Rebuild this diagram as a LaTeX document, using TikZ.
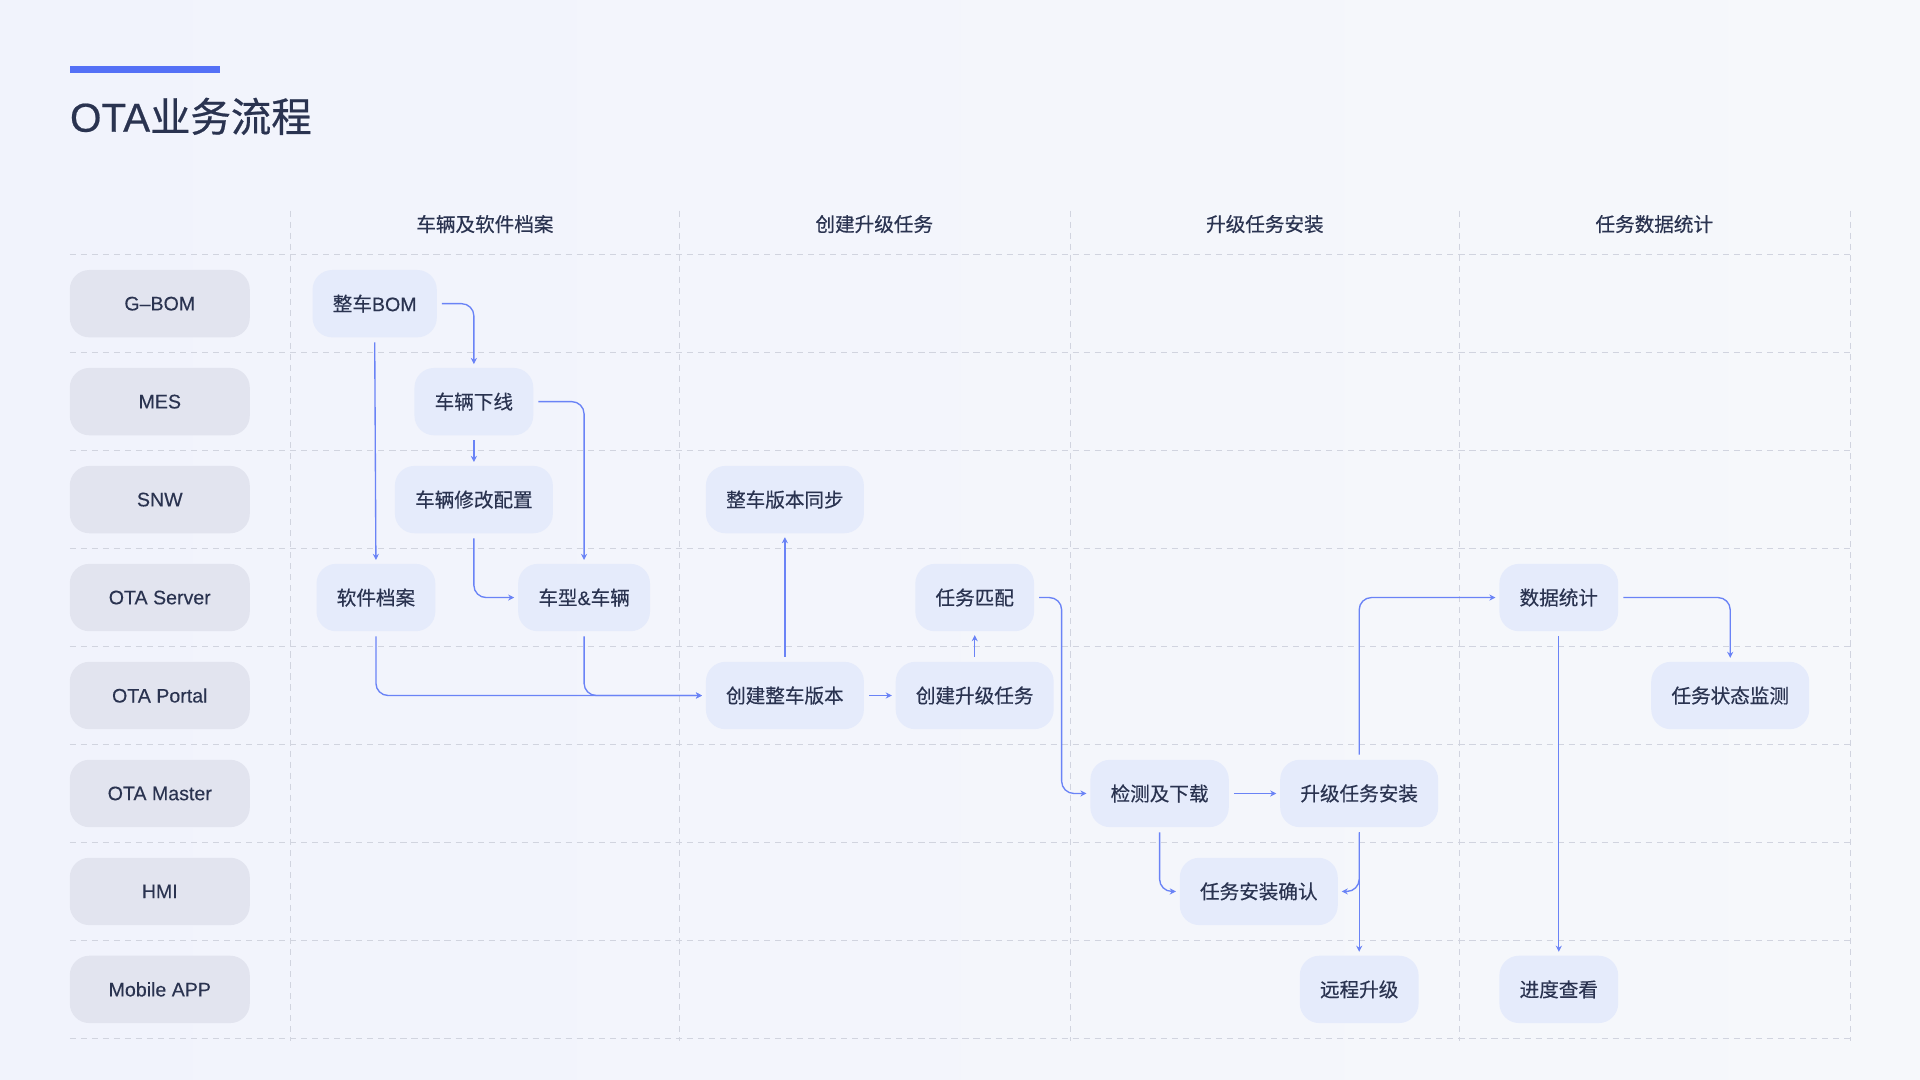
\documentclass[tikz,border=0pt]{standalone}
\usepackage{fontspec}
\setmainfont{Liberation Sans}[FakeBold=0.3]
\newfontfamily\cjk{Noto Sans CJK SC}[FakeBold=0.4]
\newfontfamily\lat{Liberation Sans}[FakeBold=0.3]
\newfontfamily\titlelat{Liberation Sans}[FakeBold=0.5]
\newfontfamily\titlecjk{Noto Sans CJK SC}[FakeBold=0.6]
\usetikzlibrary{arrows.meta,calc}
\definecolor{bgA}{HTML}{F1F3FC}
\definecolor{bgB}{HTML}{F6F8FB}
\definecolor{ink}{HTML}{2A3350}
\definecolor{accent}{HTML}{5470F6}
\definecolor{grid}{HTML}{D1D4DF}
\definecolor{lanefill}{HTML}{E2E4EF}
\definecolor{procfill}{HTML}{E5EBFB}
\definecolor{link}{HTML}{6A83F6}
\tikzset{
  lane/.style={rounded corners=16pt, fill=lanefill, minimum width=147pt, minimum height=55pt, inner sep=0pt, text=ink, font=\lat\fontsize{16}{19}\selectfont},
  proc/.style={rounded corners=16pt, fill=procfill, minimum height=55pt, inner xsep=16.5pt, inner ysep=0pt, text=ink, font=\cjk\fontsize{16}{19}\selectfont},
  colhead/.style={text=ink, font=\cjk\fontsize{16}{19}\selectfont},
  gridline/.style={grid, line width=0.9pt, dash pattern=on 5pt off 4pt},
  conn/.style={link, line width=1.1pt, rounded corners=10pt, -{Stealth[length=5pt,width=5pt]}, shorten >=3pt, shorten <=4pt}
}
\begin{document}
\begin{tikzpicture}[x=1pt,y=-1pt]
\useasboundingbox (0,0) rectangle (1568,882);
\shade[left color=bgA, right color=bgB] (0,0) rectangle (1568,882);
% title
\fill[accent] (57,54) rectangle (180,60);
\node[anchor=west, inner sep=0pt, text=ink, font=\fontsize{33}{39}\selectfont] (title) at (57,95) {{\titlelat OTA}{\titlecjk 业务流程}};
% grid
\foreach \yy in {208,288,368,448,528,608,688,768,848}
  \draw[gridline] (57,\yy) -- (1511,\yy);
\foreach \xx in {237,555,874,1192,1511}
  \draw[gridline] (\xx,172) -- (\xx,850);
% column headers
\node[colhead] (h1) at (396,183) {车辆及软件档案};
\node[colhead] (h2) at (714,183) {创建升级任务};
\node[colhead] (h3) at (1033,183) {升级任务安装};
\node[colhead] (h4) at (1351,183) {任务数据统计};
% lanes
\node[lane] (l1) at (130.5,248) {G–BOM};
\node[lane] (l2) at (130.5,328) {MES};
\node[lane] (l3) at (130.5,408) {SNW};
\node[lane] (l4) at (130.5,488) {OTA Server};
\node[lane] (l5) at (130.5,568) {OTA Portal};
\node[lane] (l6) at (130.5,648) {OTA Master};
\node[lane] (l7) at (130.5,728) {HMI};
\node[lane] (l8) at (130.5,808) {Mobile APP};
% process nodes
\node[proc] (bom) at (306,248) {整车{\lat BOM}};
\node[proc] (xx) at (387,328) {车辆下线};
\node[proc] (xg) at (387,408) {车辆修改配置};
\node[proc] (rj) at (307,488) {软件档案};
\node[proc] (cx) at (477,488) {车型{\lat\&}车辆};
\node[proc] (tb) at (641,408) {整车版本同步};
\node[proc] (cj) at (641,568) {创建整车版本};
\node[proc] (sj) at (796,568) {创建升级任务};
\node[proc] (pp) at (796,488) {任务匹配};
\node[proc] (jc) at (947,648) {检测及下载};
\node[proc] (az) at (1110,648) {升级任务安装};
\node[proc] (qr) at (1028,728) {任务安装确认};
\node[proc] (yc) at (1110,808) {远程升级};
\node[proc] (tj) at (1273,488) {数据统计};
\node[proc] (jk) at (1413,568) {任务状态监测};
\node[proc] (ck) at (1273,808) {进度查看};
% connectors
\draw[conn] (bom.east) -| (xx.north);
\draw[conn] (bom.south) -- (rj.north);
\draw[conn] (xx.south) -- (xg.north);
\draw[conn] (xx.east) -| (cx.north);
\draw[conn] (xg.south) |- (cx.west);
\draw[conn] (rj.south) |- (cj.west);
\draw[conn] (cx.south) |- (cj.west);
\draw[conn] (cj.north) -- (tb.south);
\draw[conn] (cj.east) -- (sj.west);
\draw[conn] (sj.north) -- (pp.south);
\coordinate (k1) at (867,560);
\draw[conn] (pp.east) -| (k1) |- (jc.west);
\draw[conn] (jc.east) -- (az.west);
\draw[conn] (jc.south) |- (qr.west);
\draw[conn] (az.south) -- (yc.north);
\draw[conn] (az.south) |- (qr.east);
\draw[conn] (az.north) |- (tj.west);
\draw[conn] (tj.east) -| (jk.north);
\draw[conn] (tj.south) -- (ck.north);
\end{tikzpicture}
\end{document}
